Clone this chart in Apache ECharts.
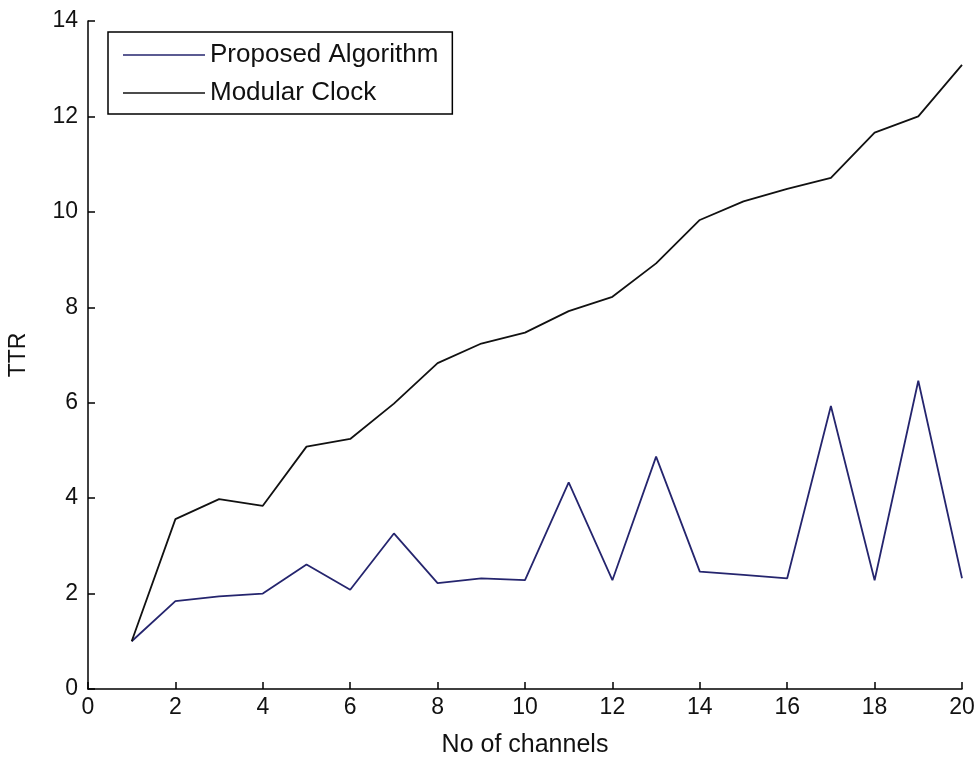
<!DOCTYPE html>
<html>
<head>
<meta charset="utf-8">
<script src="https://cdn.jsdelivr.net/npm/echarts@6/dist/echarts.min.js"></script>
<style>
html,body{margin:0;padding:0;background:#fff;}
#chart{width:977px;height:758px;}
</style>
</head>
<body>
<div id="chart"></div>
<script>
const channels = [1,2,3,4,5,6,7,8,9,10,11,12,13,14,15,16,17,18,19,20];
const proposedAlgorithm = [1.0,1.84,1.94,2.0,2.61,2.08,3.26,2.22,2.32,2.28,4.33,2.28,4.87,2.46,2.39,2.32,5.93,2.28,6.46,2.32];
const modularClock = [1.0,3.56,3.98,3.84,5.08,5.24,5.98,6.83,7.24,7.47,7.92,8.22,8.92,9.83,10.22,10.48,10.71,11.66,12.0,13.08];
const xTicks = [0,2,4,6,8,10,12,14,16,18,20];
const yTicks = [0,2,4,6,8,10,12,14];

const font = 'Liberation Sans, Arial, sans-serif';
const chart = echarts.init(document.getElementById('chart'));
chart.setOption({
  animation: false,
  backgroundColor: '#fff',
  grid: {left: 88, right: 15, top: 21, bottom: 69, containLabel: false, outerBoundsMode: 'none'},
  legend: {
    orient: 'vertical',
    left: 108, top: 32,
    backgroundColor: '#fff',
    borderColor: '#000', borderWidth: 1.5,
    padding: [10, 14, 8, 15],
    icon: 'rect',
    itemWidth: 82, itemHeight: 1.6, itemGap: 12,
    textStyle: {fontFamily: font, fontSize: 26, color: '#111'},
    data: [{name: 'Proposed Algorithm'}, {name: 'Modular Clock'}]
  },
  xAxis: {
    type: 'value', min: xTicks[0], max: xTicks[xTicks.length-1], interval: 2,
    name: 'No of channels', nameLocation: 'middle', nameGap: 44,
    nameTextStyle: {fontFamily: font, fontSize: 25, color: '#111'},
    axisLine: {show: true, onZero: false, lineStyle: {color: '#000', width: 1.5}},
    axisTick: {show: true, inside: true, length: 7, lineStyle: {color: '#000', width: 1.5}},
    axisLabel: {fontFamily: font, fontSize: 23, color: '#111', margin: 7},
    splitLine: {show: false}
  },
  yAxis: {
    type: 'value', min: yTicks[0], max: yTicks[yTicks.length-1], interval: 2,
    name: 'TTR', nameLocation: 'middle', nameGap: 58,
    nameTextStyle: {fontFamily: font, fontSize: 23, color: '#111'},
    axisLine: {show: true, lineStyle: {color: '#000', width: 1.5}},
    axisTick: {show: true, inside: true, length: 7, lineStyle: {color: '#000', width: 1.5}},
    axisLabel: {fontFamily: font, fontSize: 23, color: '#111', margin: 10},
    splitLine: {show: false}
  },
  series: [
    {
      name: 'Proposed Algorithm', type: 'line', symbol: 'none',
      data: channels.map((c, i) => [c, proposedAlgorithm[i]]),
      lineStyle: {color: '#25256e', width: 1.8},
      itemStyle: {color: '#25256e'}
    },
    {
      name: 'Modular Clock', type: 'line', symbol: 'none',
      data: channels.map((c, i) => [c, modularClock[i]]),
      lineStyle: {color: '#111', width: 1.8},
      itemStyle: {color: '#111'}
    }
  ]
});
</script>
</body>
</html>
